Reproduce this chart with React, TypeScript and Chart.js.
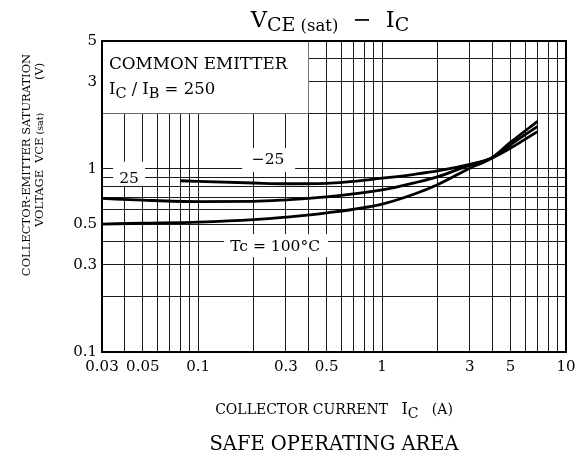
import { useEffect, useRef } from "react";
import { Chart, registerables } from "chart.js";
Chart.register(...registerables);

// ---- data ----
const icM25 = [0.08, 0.1, 0.2, 0.3, 0.5, 1, 1.5, 2, 3, 3.9, 5, 7];
const vceM25 = [0.862, 0.855, 0.838, 0.83, 0.835, 0.89, 0.935, 0.975, 1.06, 1.14, 1.3, 1.6];
const ic25 = [0.03, 0.05, 0.1, 0.2, 0.3, 0.5, 1, 1.5, 2, 3, 3.9, 5, 7];
const vce25 = [0.69, 0.675, 0.663, 0.665, 0.678, 0.703, 0.768, 0.84, 0.905, 1.05, 1.14, 1.36, 1.71];
const ic100 = [0.03, 0.05, 0.1, 0.2, 0.3, 0.5, 1, 1.5, 2, 3, 3.9, 5, 7];
const vce100 = [0.5, 0.505, 0.512, 0.528, 0.545, 0.575, 0.643, 0.73, 0.82, 1.01, 1.14, 1.4, 1.82];

const xTickLabels = [0.03, 0.05, 0.1, 0.3, 0.5, 1, 3, 5, 10];
const yTickLabels = [0.1, 0.3, 0.5, 1, 3, 5];
const xMin = 0.03, xMax = 10, yMin = 0.1, yMax = 5;

const FONT = "'DejaVu Serif', serif";

function logGrid(min: number, max: number): number[] {
  const out: number[] = [];
  for (let e = -3; e <= 2; e++) {
    for (let k = 1; k <= 9; k++) {
      const v = parseFloat((k * Math.pow(10, e)).toPrecision(6));
      if (v >= min - 1e-12 && v <= max + 1e-12) out.push(v);
    }
  }
  return out;
}
const has = (arr: number[], v: number) => arr.some((a) => Math.abs(a - v) < 1e-9);

type Run = { t: string; size: number; dy?: number };
function drawRuns(ctx: CanvasRenderingContext2D, runs: Run[], x: number, y: number, align: "left" | "center") {
  let total = 0;
  for (const r of runs) {
    ctx.font = `${r.size}px ${FONT}`;
    total += ctx.measureText(r.t).width;
  }
  let cx = align === "center" ? x - total / 2 : x;
  ctx.textAlign = "left";
  ctx.textBaseline = "alphabetic";
  for (const r of runs) {
    ctx.font = `${r.size}px ${FONT}`;
    ctx.fillText(r.t, cx, y + (r.dy || 0));
    cx += ctx.measureText(r.t).width;
  }
}

const decorPlugin = {
  id: "decor",
  beforeDatasetsDraw(chart: any) {
    const ctx: CanvasRenderingContext2D = chart.ctx;
    const xs = chart.scales.x, ys = chart.scales.y;
    const ca = chart.chartArea;
    ctx.save();
    ctx.fillStyle = "#fff";
    // box for COMMON EMITTER
    const bx1 = xs.getPixelForValue(0.4), by1 = ys.getPixelForValue(2);
    ctx.fillRect(ca.left + 1, ca.top + 1, bx1 - ca.left - 1.5, by1 - ca.top - 1.5);
    // label backgrounds
    const labels = [
      { t: "25", x: 0.0421, y: 0.884, l: 16, r: 16, up: 17, dn: 7 },
      { t: "\u221225", x: 0.24, y: 1.12, l: 26, r: 27, up: 12, dn: 12 },
      { t: "Tc = 100\u00b0C", x: 0.262, y: 0.374, l: 51, r: 53, up: 13, dn: 10 },
    ];
    for (const lb of labels) {
      const px = xs.getPixelForValue(lb.x), py = ys.getPixelForValue(lb.y);
      ctx.fillStyle = "#fff";
      ctx.fillRect(px - lb.l, py - lb.up, lb.l + lb.r, lb.up + lb.dn);
      ctx.fillStyle = "#000";
      ctx.font = `15.5px ${FONT}`;
      ctx.textAlign = "center";
      ctx.textBaseline = "middle";
      ctx.fillText(lb.t, px, py);
    }
    // frame
    ctx.strokeStyle = "#000";
    ctx.lineWidth = 2;
    ctx.strokeRect(ca.left, ca.top, ca.right - ca.left, ca.bottom - ca.top);
    // box text
    ctx.fillStyle = "#000";
    drawRuns(ctx, [{ t: "COMMON EMITTER", size: 16.8 }], ca.left + 7, ca.top + 28, "left");
    drawRuns(
      ctx,
      [
        { t: "I", size: 16.5 },
        { t: "C", size: 14.5, dy: 4 },
        { t: " / ", size: 16 },
        { t: "I", size: 16.5 },
        { t: "B", size: 14.5, dy: 4 },
        { t: " = 250", size: 16.5 },
      ],
      ca.left + 7,
      ca.top + 53,
      "left"
    );
    ctx.restore();
  },
  afterDraw(chart: any) {
    const ctx: CanvasRenderingContext2D = chart.ctx;
    const ca = chart.chartArea;
    const midX = (ca.left + ca.right) / 2;
    ctx.save();
    ctx.fillStyle = "#000";
    // title
    drawRuns(
      ctx,
      [
        { t: "V", size: 22.5 },
        { t: "CE", size: 19, dy: 4 },
        { t: " (sat)", size: 16.5, dy: 4 },
        { t: "  \u2212  ", size: 22.5 },
        { t: "I", size: 22.5 },
        { t: "C", size: 19, dy: 4 },
      ],
      midX - 4,
      27,
      "center"
    );
    // x-axis title
    drawRuns(
      ctx,
      [
        { t: "COLLECTOR CURRENT   ", size: 14 },
        { t: "I", size: 16 },
        { t: "C", size: 14, dy: 4 },
        { t: "   (A)", size: 14 },
      ],
      midX,
      414,
      "center"
    );
    // bottom caption
    drawRuns(ctx, [{ t: "SAFE OPERATING AREA", size: 19.5 }], midX, 450, "center");
    // y-axis title (rotated)
    ctx.save();
    ctx.translate(30, 165);
    ctx.rotate(-Math.PI / 2);
    drawRuns(ctx, [{ t: "COLLECTOR-EMITTER SATURATION", size: 11.5 }], 0, 0, "center");
    ctx.restore();
    ctx.save();
    ctx.translate(43, 227);
    ctx.rotate(-Math.PI / 2);
    drawRuns(ctx, [{ t: "VOLTAGE", size: 11.5 }], 0, 0, "left");
    drawRuns(ctx, [{ t: "V", size: 11.5 }, { t: "CE", size: 11.5 }, { t: " (sat)", size: 9.5 }], 64, 0, "left");
    drawRuns(ctx, [{ t: "(V)", size: 11.5 }], 147, 0, "left");
    ctx.restore();
    ctx.restore();
  },
};

export default function App() {
  const ref = useRef<HTMLCanvasElement>(null);
  useEffect(() => {
    document.body.style.margin = "0";
    const xGrid = logGrid(xMin, xMax);
    const yGrid = logGrid(yMin, yMax);
    const mk = (xs: number[], ys: number[]) => xs.map((x, i) => ({ x, y: ys[i] }));
    const ds = (label: string, data: any) => ({
      label,
      data,
      showLine: true,
      borderColor: "#000",
      borderWidth: 2.8,
      pointRadius: 0,
      cubicInterpolationMode: "monotone" as const,
      fill: false,
    });
    const chart = new Chart(ref.current!, {
      type: "scatter",
      data: {
        datasets: [ds("-25", mk(icM25, vceM25)), ds("25", mk(ic25, vce25)), ds("100", mk(ic100, vce100))],
      },
      plugins: [decorPlugin],
      options: {
        animation: false,
        responsive: false,
        layout: { padding: { top: 41, right: 17, left: 0, bottom: 0 } },
        plugins: { legend: { display: false }, tooltip: { enabled: false }, title: { display: false } },
        scales: {
          x: {
            type: "logarithmic",
            min: xMin,
            max: xMax,
            afterBuildTicks: (s: any) => {
              s.ticks = xGrid.map((v) => ({ value: v }));
            },
            afterFit: (s: any) => {
              s.height = 107;
            },
            ticks: {
              autoSkip: false,
              maxRotation: 0,
              padding: 6,
              color: "#000",
              font: { family: FONT, size: 15 },
              callback: (v: any) => (has(xTickLabels, Number(v)) ? String(Number(v)) : ""),
            },
            grid: { color: "#1a1a1a", lineWidth: 1, drawTicks: false },
            border: { color: "#000", width: 2 },
          },
          y: {
            type: "logarithmic",
            min: yMin,
            max: yMax,
            afterBuildTicks: (s: any) => {
              s.ticks = yGrid.map((v) => ({ value: v }));
            },
            afterFit: (s: any) => {
              s.width = 102;
            },
            ticks: {
              autoSkip: false,
              padding: 5,
              color: "#000",
              font: { family: FONT, size: 15 },
              callback: (v: any) => (has(yTickLabels, Number(v)) ? String(Number(v)) : ""),
            },
            grid: { color: "#1a1a1a", lineWidth: 1, drawTicks: false },
            border: { color: "#000", width: 2 },
          },
        },
      },
    });
    return () => chart.destroy();
  }, []);
  return (
    <div style={{ width: 583, height: 459, background: "#fff" }}>
      <canvas ref={ref} width={583} height={459} style={{ display: "block" }} />
    </div>
  );
}
